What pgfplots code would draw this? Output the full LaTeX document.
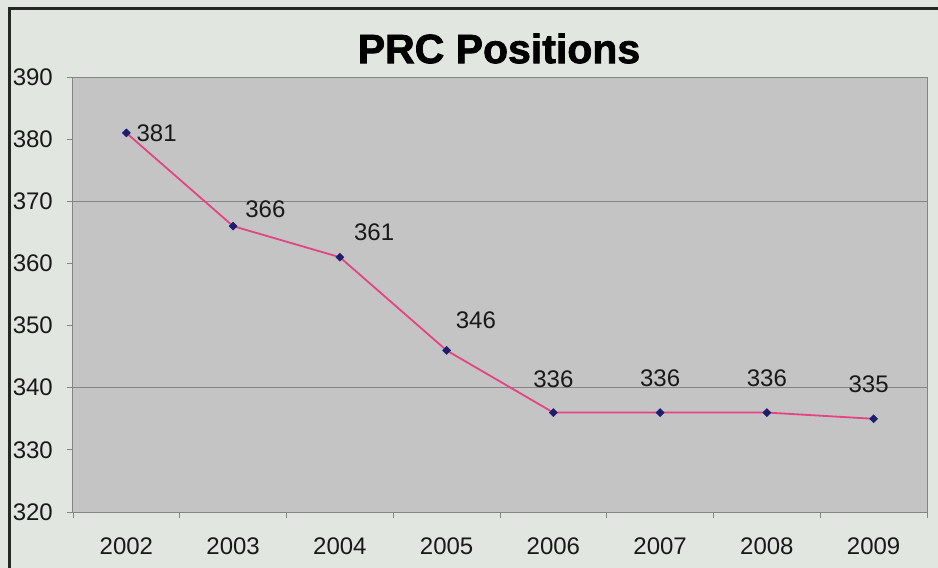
\documentclass[border=0pt]{standalone}
\usepackage{pgfplots}
\pgfplotsset{compat=1.18}
\usepackage{fontspec}
\setmainfont{Liberation Sans}
\newfontfamily\titlefont{Liberation Sans}[BoldFeatures={FakeBold=1.8}]
\definecolor{outerbg}{HTML}{E1E6E1}
\definecolor{plotbg}{HTML}{C4C4C4}
\definecolor{linepink}{HTML}{E2457F}
\definecolor{navy}{HTML}{1C1C70}
\definecolor{axisgray}{HTML}{858585}
\begin{document}
\begin{tikzpicture}
\fill[outerbg] (-73bp,-56bp) rectangle (865bp,512bp);
\fill[black!85] (-65bp,-56bp) rectangle (-62bp,504.5bp);
\fill[black!85] (-65bp,501.5bp) rectangle (865bp,504.5bp);
\node[inner sep=0pt, anchor=center] at (426bp,463.5bp) {\fontsize{41bp}{43bp}\titlefont\bfseries PRC Positions};
\begin{axis}[
  at={(0,0)}, anchor=south west,
  scale only axis, width=854bp, height=435bp,
  xmin=-0.5, xmax=7.5, ymin=320, ymax=390,
  xtick={0,...,7},
  xticklabels={2002,2003,2004,2005,2006,2007,2008,2009},
  minor xtick={-0.5,0.5,...,7.5},
  ytick={320,330,...,390},
  extra y ticks={340,370},
  extra y tick labels={},
  extra y tick style={grid=major, major tick length=0pt},
  major grid style={axisgray, line width=1bp},
  tick align=outside,
  xtick pos=bottom, ytick pos=left,
  major tick length=6bp, minor tick length=6bp,
  every tick/.style={axisgray, line width=0.8bp},
  every major x tick/.append style={draw=none},
  axis line style={axisgray, line width=1bp},
  axis background/.style={fill=plotbg},
  tick label style={font=\fontsize{24bp}{26bp}\selectfont, text=black!90},
  yticklabel style={anchor=east, inner sep=0pt, xshift=-14bp},
  xticklabel style={anchor=north, inner sep=0pt, yshift=-20bp},
  /pgf/number format/assume math mode=true,
  /pgf/number format/1000 sep={},
  clip=false,
]
\addplot[color=linepink, line width=1.8bp, mark=square*, mark size=2.9bp,
  mark options={fill=navy, draw=navy, line width=0.3bp, rotate=45}]
  coordinates {(0,381) (1,366) (2,361) (3,346) (4,336) (5,336) (6,336) (7,335)};
\begin{scope}[every node/.style={inner sep=0pt, font=\fontsize{24bp}{26bp}\selectfont, text=black!90}]
\node[anchor=west, xshift=10bp] at (axis cs:0,381) {381};
\node[anchor=west, xshift=12bp, yshift=17bp] at (axis cs:1,366) {366};
\node[anchor=west, xshift=14bp, yshift=25bp] at (axis cs:2,361) {361};
\node[anchor=west, xshift=9bp, yshift=30bp] at (axis cs:3,346) {346};
\node[anchor=center, yshift=33bp] at (axis cs:4,336) {336};
\node[anchor=center, yshift=34bp] at (axis cs:5,336) {336};
\node[anchor=center, yshift=34bp] at (axis cs:6,336) {336};
\node[anchor=center, xshift=-5bp, yshift=35bp] at (axis cs:7,335) {335};
\end{scope}
\end{axis}
\pgfresetboundingbox
\useasboundingbox (-73bp,-56bp) rectangle (865bp,512bp);
\end{tikzpicture}
\end{document}
